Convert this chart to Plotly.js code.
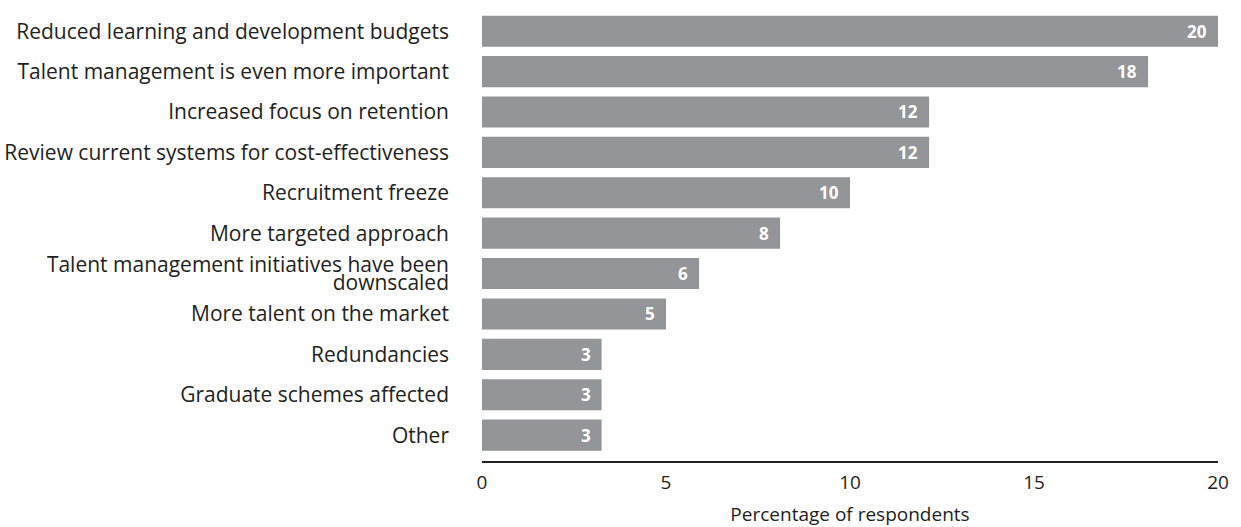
<!DOCTYPE html>
<html>
<head>
<meta charset="utf-8">
<script src="https://cdn.plot.ly/plotly-3.0.1.min.js"></script>
<style>html,body{margin:0;padding:0;background:#fff;}#chart{width:1241px;height:527px;}</style>
</head>
<body>
<div id="chart"></div>
<script>
const categories = [
  "Reduced learning and development budgets",
  "Talent management is even more important",
  "Increased focus on retention",
  "Review current systems for cost-effectiveness",
  "Recruitment freeze",
  "More targeted approach",
  "Talent management initiatives have been<br>downscaled",
  "More talent on the market",
  "Redundancies",
  "Graduate schemes affected",
  "Other"
];
const values = [20, 18.1, 12.15, 12.15, 10, 8.1, 5.9, 5.0, 3.25, 3.25, 3.25];
const valueLabels = ["20", "18", "12", "12", "10", "8", "6", "5", "3", "3", "3"];
const xTicks = [0, 5, 10, 15, 20];

const font = "'Open Sans', 'Noto Sans', sans-serif";
const trace = {
  type: 'bar',
  orientation: 'h',
  x: values,
  y: categories,
  marker: {color: '#939598', line: {width: 0}},
  hoverinfo: 'skip'
};
const annotations = values.map((v, i) => ({
  x: v, y: categories[i], xref: 'x', yref: 'y',
  text: '<b>' + valueLabels[i] + '</b>',
  showarrow: false, xanchor: 'right', xshift: -9,
  font: {family: font, size: 17, color: '#ffffff'}
}));
const layout = {
  width: 1241, height: 527,
  margin: {l: 482, r: 23, t: 11, b: 66},
  paper_bgcolor: '#fff', plot_bgcolor: '#fff',
  bargap: 0.23,
  showlegend: false,
  font: {family: font, color: '#231f20'},
  xaxis: {
    range: [0, 20], tickvals: xTicks, ticktext: xTicks.map(String),
    showgrid: false, zeroline: false, showline: true, linecolor: '#231f20', linewidth: 1.5,
    ticks: '', ticklabelstandoff: 4, tickfont: {size: 19, color: '#231f20'},
    title: {text: 'Percentage of respondents', font: {size: 19, color: '#231f20'}, standoff: 16}
  },
  yaxis: {
    type: 'category', range: [10.64, -0.5],
    showgrid: false, zeroline: false, showline: false, ticks: '',
    tickfont: {size: 21, color: '#231f20'}, ticklabelstandoff: 32
  },
  annotations: annotations
};

function centerY(el) { const r = el.getBoundingClientRect(); return r.top + r.height / 2; }
function dyPx(el, fs) {
  const a = el.getAttribute('dy') || '0';
  const v = parseFloat(a) || 0;
  return a.indexOf('em') >= 0 ? v * fs : v;
}

Plotly.newPlot('chart', [trace], layout, {displayModeBar: false, staticPlot: true}).then(function (gd) {
  // tighten line spacing of multi-line category labels
  const targetGap = 18;
  gd.querySelectorAll('.ytick text').forEach(function (t) {
    const lines = t.querySelectorAll('tspan.line');
    if (lines.length !== 2) return;
    const fs = parseFloat(getComputedStyle(t).fontSize) || 21;
    const mid = (centerY(lines[0]) + centerY(lines[1])) / 2;
    for (let k = 0; k < 4; k++) {
      const gap = centerY(lines[1]) - centerY(lines[0]);
      lines[1].setAttribute('dy', (dyPx(lines[1], fs) + (targetGap - gap)) + 'px');
      const c0 = centerY(lines[0]);
      lines[0].setAttribute('dy', (dyPx(lines[0], fs) + (mid - targetGap / 2 - c0)) + 'px');
    }
  });
});
</script>
</body>
</html>
